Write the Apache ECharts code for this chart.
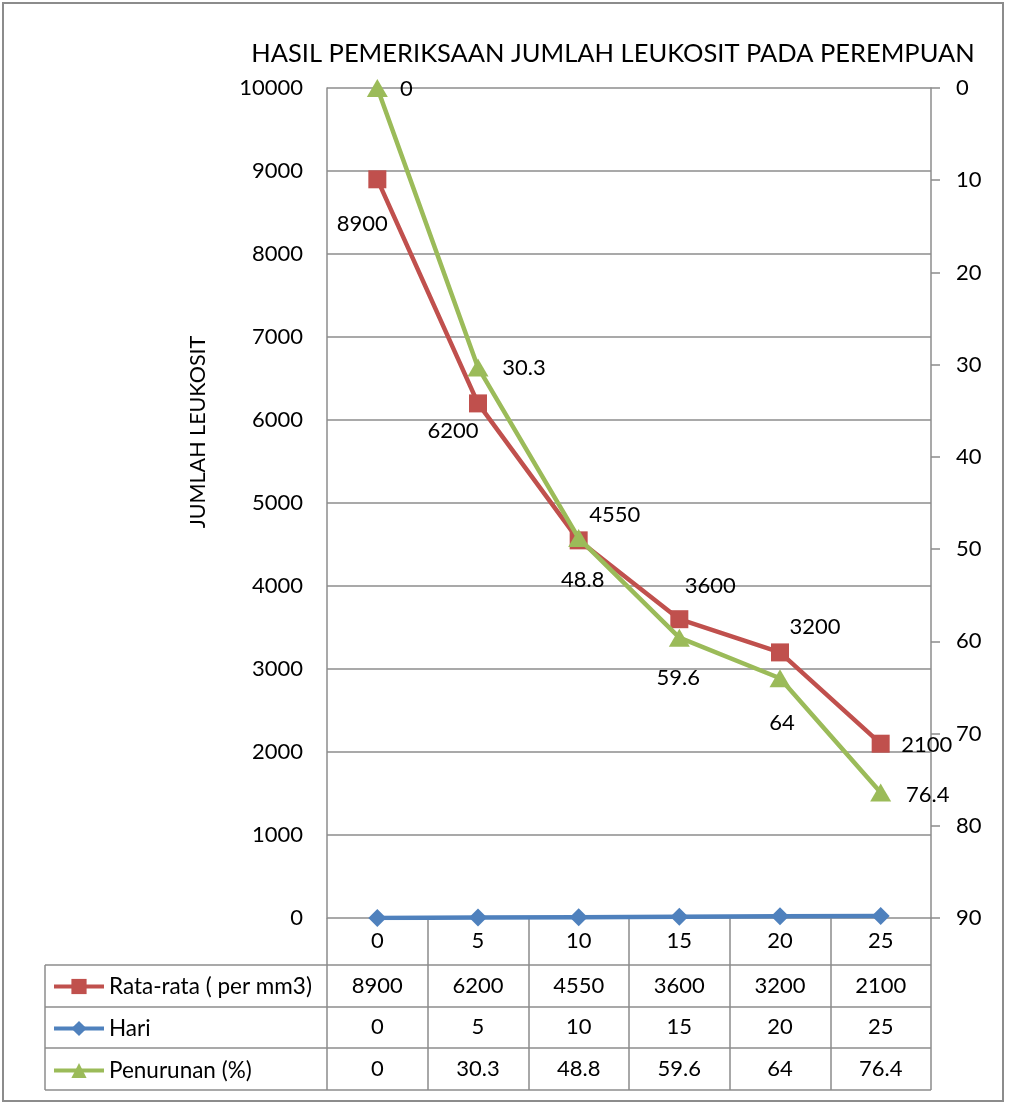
<!DOCTYPE html>
<html>
<head>
<meta charset="utf-8">
<title>Hasil Pemeriksaan Jumlah Leukosit pada Perempuan</title>
<script src="https://cdn.jsdelivr.net/npm/echarts@6/dist/echarts.min.js"></script>
<style>
  html, body { margin: 0; padding: 0; background: #fff; }
  #chart { width: 1009px; height: 1104px; }
</style>
</head>
<body>
<div id="chart"></div>
<script>
// Day categories on the x axis
const categories = ['0', '5', '10', '15', '20', '25'];
// Average leukocyte count (per mm3), left axis
const rataRata = [8900, 6200, 4550, 3600, 3200, 2100];
// Day number, left axis
const hari = [0, 5, 10, 15, 20, 25];
// Decrease in percent, right (inverted) axis
const penurunan = [0, 30.3, 48.8, 59.6, 64, 76.4];

// Axis ranges
const leftAxisRange = { min: 0, max: 10000, interval: 1000 };
const rightAxisRange = { min: 0, max: 90, interval: 10 };

// Series names (also used in the legend column of the data table)
const seriesNames = ['Rata-rata ( per mm3)', 'Hari', 'Penurunan (%)'];

// Label placement offsets (text centre relative to the point)
const rataLabelOffset = [[-15, 45], [-25, 28], [36, -25], [31, -33], [35, -25], [46, 1]];
const penurunanLabelOffset = [[29, 1], [46, 0], [4, 42], [-1, 40], [2, 45], [47, 2]];

const FONT = 'Lato, "Open Sans", sans-serif';
const FS = 22;
const GRAY = '#8c8c8c';
const RED = '#C0504D';
const BLUE = '#4F81BD';
const GREEN = '#9BBB59';

// Plot frame in pixels
const PLOT = { left: 327, right: 931, top: 88, bottom: 918 };
// Data table geometry
const TABLE = { left: 45, rows: [965, 1007, 1048, 1090] };

const chart = echarts.init(document.getElementById('chart'), null, { renderer: 'canvas' });

function withLabels(values, offsets) {
  return values.map((v, i) => ({
    value: v,
    label: { offset: offsets[i] }
  }));
}

// Data-table rows drawn as extra category axes below the plot
function tableRowAxis(values, offset) {
  return {
    type: 'category',
    gridIndex: 0,
    position: 'bottom',
    offset: offset,
    data: values.map(String),
    boundaryGap: true,
    axisLine: { show: false },
    axisTick: { show: false },
    splitLine: { show: false },
    axisLabel: { color: '#000', fontFamily: FONT, fontSize: FS, margin: 12 }
  };
}

const rowCenters = [];
for (let i = 0; i < TABLE.rows.length - 1; i++) {
  rowCenters.push((TABLE.rows[i] + TABLE.rows[i + 1]) / 2);
}
const catRowCenter = (PLOT.bottom + TABLE.rows[0]) / 2;

const tableLines = [];
TABLE.rows.forEach(y => {
  tableLines.push({
    type: 'line',
    shape: { x1: TABLE.left, y1: y, x2: PLOT.right, y2: y },
    style: { stroke: GRAY, lineWidth: 1.5 }
  });
});
tableLines.push({
  type: 'line',
  shape: { x1: TABLE.left, y1: TABLE.rows[0], x2: TABLE.left, y2: TABLE.rows[TABLE.rows.length - 1] },
  style: { stroke: GRAY, lineWidth: 1.5 }
});

const option = {
  backgroundColor: '#fff',
  animation: false,
  textStyle: { fontFamily: FONT },
  title: {
    text: 'HASIL PEMERIKSAAN JUMLAH LEUKOSIT PADA PEREMPUAN',
    left: 608,
    textAlign: 'center',
    top: 36,
    textStyle: { fontFamily: FONT, fontSize: 25.5, fontWeight: 'normal', color: '#000' }
  },
  legend: {
    orient: 'vertical',
    left: 52,
    top: rowCenters[0] - 11,
    padding: 0,
    itemWidth: 50,
    itemHeight: 19,
    itemGap: 19,
    itemStyle: { borderWidth: 0 },
    lineStyle: { width: 4 },
    data: seriesNames,
    textStyle: { fontFamily: FONT, fontSize: 22.5, color: '#000' }
  },
  grid: {
    left: PLOT.left,
    right: 1009 - PLOT.right,
    top: PLOT.top,
    bottom: 1104 - PLOT.bottom,
    containLabel: false
  },
  xAxis: [
    {
      type: 'category',
      data: categories,
      boundaryGap: true,
      axisLine: { show: false },
      axisTick: { show: true, length: TABLE.rows[TABLE.rows.length - 1] - PLOT.bottom, lineStyle: { color: GRAY, width: 1.5 } },
      axisLabel: { color: '#000', fontFamily: FONT, fontSize: FS, margin: 12 },
      splitLine: { show: false }
    },
    tableRowAxis(rataRata, rowCenters[0] - catRowCenter),
    tableRowAxis(hari, rowCenters[1] - catRowCenter),
    tableRowAxis(penurunan, rowCenters[2] - catRowCenter)
  ],
  yAxis: [
    {
      type: 'value',
      name: 'JUMLAH LEUKOSIT',
      nameLocation: 'middle',
      nameGap: 118,
      nameRotate: 90,
      nameTextStyle: { fontFamily: FONT, fontSize: 21.5, color: '#000', padding: [0, 0, 0, 142] },
      min: leftAxisRange.min,
      max: leftAxisRange.max,
      interval: leftAxisRange.interval,
      axisLine: { show: true, lineStyle: { color: GRAY, width: 1.5 } },
      axisTick: { show: false },
      axisLabel: { color: '#000', fontFamily: FONT, fontSize: FS, margin: 24, formatter: v => String(v) },
      splitLine: { show: true, lineStyle: { color: GRAY, width: 1.5 } }
    },
    {
      type: 'value',
      position: 'right',
      inverse: true,
      min: rightAxisRange.min,
      max: rightAxisRange.max,
      interval: rightAxisRange.interval,
      axisLine: { show: true, lineStyle: { color: GRAY, width: 1.5 } },
      axisTick: { show: true, inside: false, length: 9, lineStyle: { color: GRAY, width: 1.5 } },
      axisLabel: { color: '#000', fontFamily: FONT, fontSize: FS, margin: 25, align: 'left', formatter: v => String(v) },
      splitLine: { show: false }
    }
  ],
  series: [
    {
      name: seriesNames[0],
      type: 'line',
      yAxisIndex: 0,
      data: withLabels(rataRata, rataLabelOffset),
      symbol: 'rect',
      symbolSize: 18,
      lineStyle: { color: RED, width: 4.5 },
      itemStyle: { color: RED },
      label: {
        show: true, position: 'inside', align: 'center', verticalAlign: 'middle',
        color: '#000', fontFamily: FONT, fontSize: FS
      },
      z: 3
    },
    {
      name: seriesNames[1],
      type: 'line',
      yAxisIndex: 0,
      data: hari,
      symbol: 'diamond',
      symbolSize: 18,
      lineStyle: { color: BLUE, width: 4.5 },
      itemStyle: { color: BLUE },
      label: { show: false },
      z: 4
    },
    {
      name: seriesNames[2],
      type: 'line',
      yAxisIndex: 1,
      data: withLabels(penurunan, penurunanLabelOffset),
      symbol: 'triangle',
      symbolSize: [21, 18],
      lineStyle: { color: GREEN, width: 4.5 },
      itemStyle: { color: GREEN },
      label: {
        show: true, position: 'inside', align: 'center', verticalAlign: 'middle',
        color: '#000', fontFamily: FONT, fontSize: FS
      },
      z: 5
    }
  ],
  graphic: [
    {
      type: 'rect',
      shape: { x: 3, y: 3, width: 1000, height: 1098 },
      style: { fill: 'none', stroke: GRAY, lineWidth: 2 },
      silent: true,
      z: -1
    },
    ...tableLines
  ]
};

chart.setOption(option);
</script>
</body>
</html>
